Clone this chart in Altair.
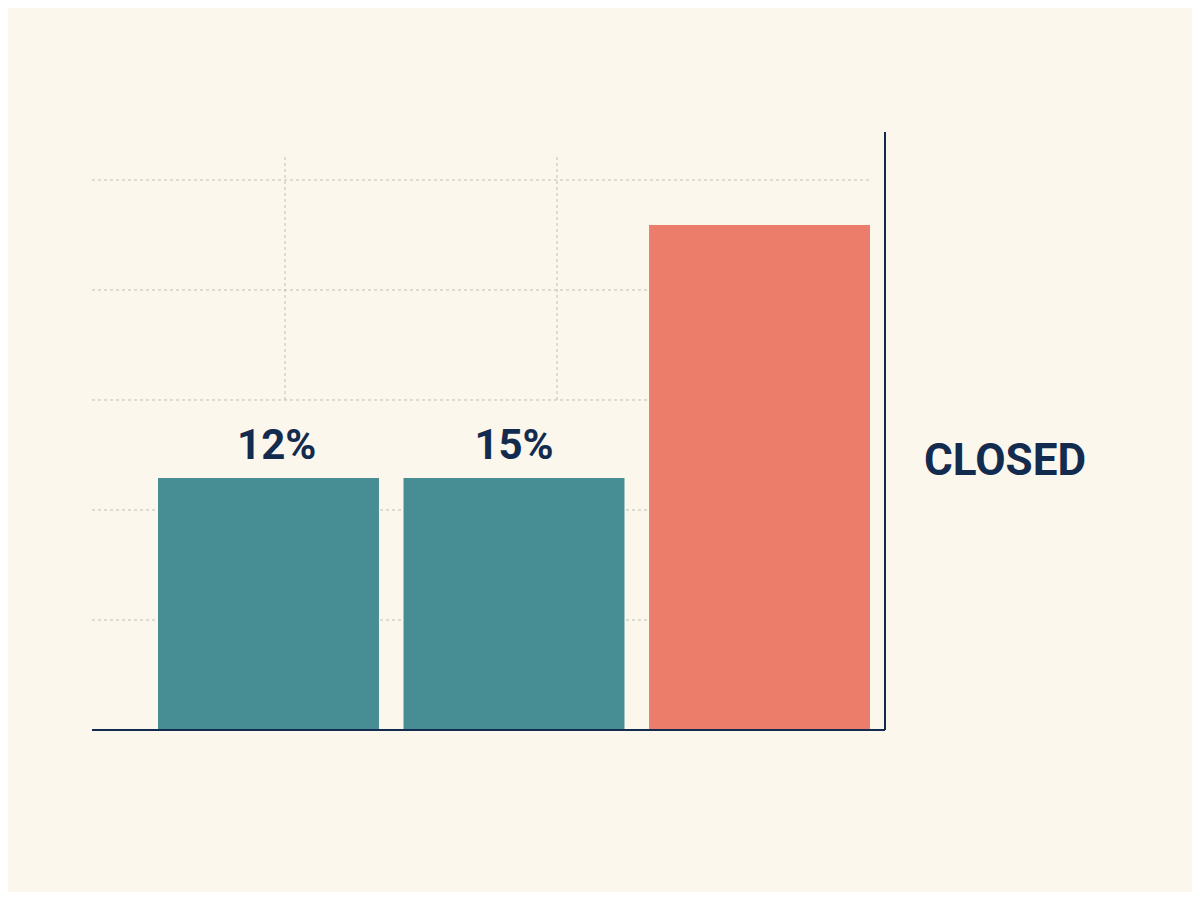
import altair as alt
import pandas as pd

# bar values, in gridline units (one gridline = 1)
categories = ['First', 'Second', 'Closed']
heights = [2.29, 2.29, 4.59]
labels = ['12%', '15%', '']
bar_colors = ['#468E93', '#468E93', '#EB7D6A']
grid_levels = [1, 2, 3, 4, 5]
side_label = 'CLOSED'

NAVY = '#132B4E'
GRID = '#BFBFB8'

df = pd.DataFrame({'cat': categories, 'h': heights, 'label': labels})
grid_df = pd.DataFrame({'level': grid_levels})
side_df = pd.DataFrame({'t': [side_label]})

y_scale = alt.Scale(domain=[0, 5.436], nice=False)
x_scale = alt.Scale(range=[66, 778], paddingInner=0.1, paddingOuter=0)

hgrid = alt.Chart(grid_df).mark_rule(
    color=GRID, strokeDash=[3, 3], strokeWidth=1
).encode(
    y=alt.Y('level:Q', scale=y_scale, axis=None),
    x=alt.value(0),
    x2=alt.value(778),
)

vgrid = alt.Chart(pd.DataFrame({'xpos': [193, 465]})).mark_rule(
    color=GRID, strokeDash=[3, 3], strokeWidth=1
).encode(
    x=alt.X('xpos:Q', scale=alt.Scale(domain=[0, 793], range=[0, 793]), axis=None),
    y=alt.value(25),
    y2=alt.value(268),
)

bars = alt.Chart(df).mark_bar().encode(
    x=alt.X('cat:N', sort=None, scale=x_scale, axis=None),
    y=alt.Y('h:Q', scale=y_scale, axis=None),
    color=alt.Color('cat:N', sort=None,
                    scale=alt.Scale(domain=categories, range=bar_colors),
                    legend=None),
)

text = alt.Chart(df).mark_text(
    font='Roboto', fontWeight='bold', fontSize=42, color=NAVY,
    baseline='bottom', dy=-10
).encode(
    x=alt.X('cat:N', sort=None, scale=x_scale, axis=None),
    y=alt.Y('h:Q', scale=y_scale),
    text='label:N',
)

# axis lines: baseline along the bottom, upright line on the right
base_line = alt.Chart(side_df).mark_rule(color=NAVY, strokeWidth=2).encode(
    x=alt.value(0), x2=alt.value(793), y=alt.value(598)
)
right_line = alt.Chart(side_df).mark_rule(color=NAVY, strokeWidth=2).encode(
    x=alt.value(793), y=alt.value(0), y2=alt.value(598)
)

side = alt.Chart(side_df).mark_text(
    font='Roboto', fontWeight='bold', fontSize=44, color=NAVY,
    align='left', baseline='middle'
).encode(
    x=alt.value(832),
    y=alt.value(330),
    text='t:N',
)

chart = alt.layer(hgrid, vgrid, bars, text, base_line, right_line, side).resolve_scale(
    x='independent'
).properties(
    width=793,
    height=598,
    background='#FCF7EC',
    padding={'left': 84, 'top': 124, 'right': 307, 'bottom': 162},
    autosize=alt.AutoSizeParams(type='none'),
).configure_view(strokeWidth=0)

chart.save('out.html', embed_options={'renderer': 'svg', 'actions': False})
